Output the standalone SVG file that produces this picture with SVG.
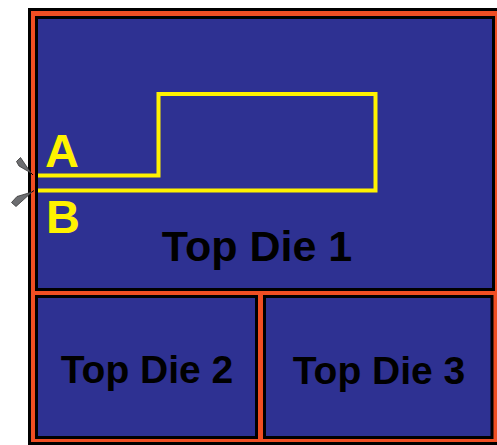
<svg xmlns="http://www.w3.org/2000/svg" width="497" height="445" viewBox="0 0 497 445">
<style>
.die{fill:#2E3192;stroke:#000;stroke-width:3}
.lbl{font-family:"Liberation Sans",Arial,sans-serif;font-weight:bold;fill:#000;text-anchor:middle}
.pin{font-family:"Liberation Sans",Arial,sans-serif;font-weight:bold;fill:#FFF200}
.probe{fill:#6D6E71;stroke:#333;stroke-width:0.8}
</style>
<rect width="497" height="445" fill="#fff"/>
<g id="package">
<rect x="29.5" y="9.5" width="480" height="434" fill="#F04E23" stroke="#000" stroke-width="3"/>
</g>
<g id="die1">
<rect class="die" x="36.5" y="17.5" width="457" height="272"/>
<text class="lbl" x="257" y="261" font-size="43">Top Die 1</text>
</g>
<g id="die2">
<rect class="die" x="36.5" y="296.5" width="220" height="141"/>
<text class="lbl" x="147" y="383" font-size="39">Top Die 2</text>
</g>
<g id="die3">
<rect class="die" x="264.5" y="296.5" width="227.5" height="141"/>
<text class="lbl" x="379" y="384" font-size="39">Top Die 3</text>
</g>
<g id="connectors">
<path d="M38,175.5 H158.5 V94 H375.5 V190.5 H38" fill="none" stroke="#FFF200" stroke-width="4"/>
</g>
<g id="pinA">
<text class="pin" x="45" y="167" font-size="47">A</text>
</g>
<g id="pinB">
<text class="pin" x="46" y="233" font-size="47">B</text>
</g>
<g id="probes">
<polygon class="probe" points="20.5,157.5 16.5,161.5 19,166 31,173"/>
<line x1="31" y1="173" x2="33" y2="175" stroke="#000" stroke-width="1"/>
<polygon class="probe" points="17,196.5 11.5,202.5 16,206.5 32,192"/>
<line x1="32" y1="192" x2="34" y2="190.5" stroke="#000" stroke-width="1"/>
</g>
</svg>
